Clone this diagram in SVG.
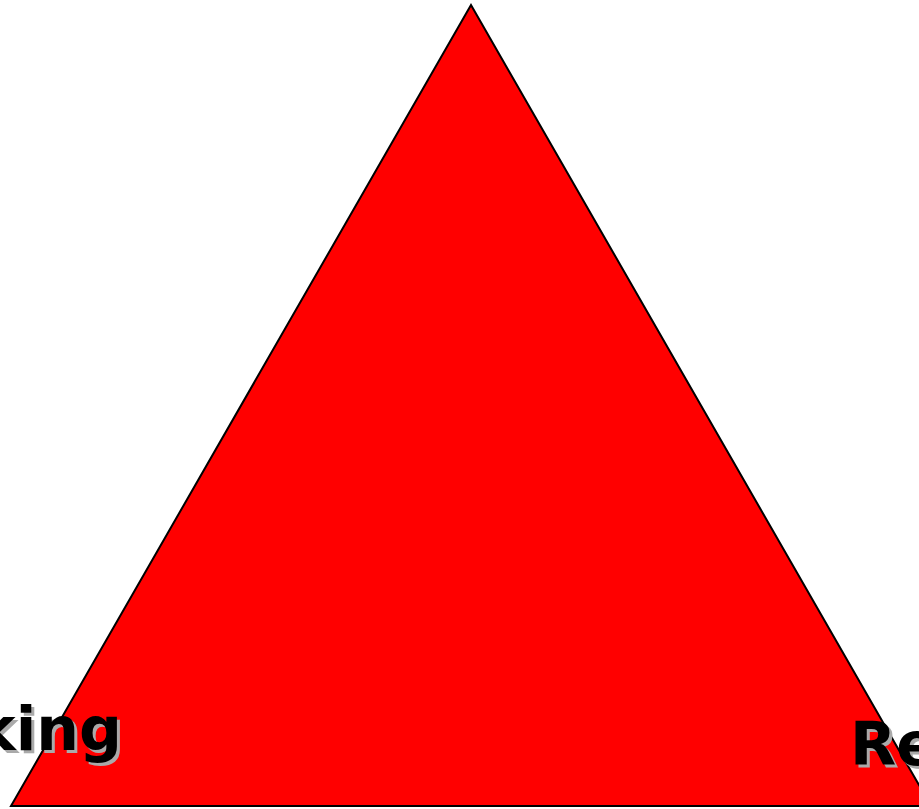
<svg xmlns="http://www.w3.org/2000/svg" width="919" height="809" viewBox="0 0 919 809">
<style>
.lbl{font-family:"DejaVu Sans",sans-serif;font-weight:bold;font-size:60px}
.sh{fill:#aaaaaa}
.fg{fill:#000000}
</style>
<rect width="919" height="809" fill="#ffffff"/>
<g id="triangle">
<polygon points="471,5 11,806 931,806" fill="#ff0000" stroke="#000000" stroke-width="2"/>
</g>
<g id="label-left">
<text class="lbl sh" x="125" y="753" text-anchor="end">king</text>
<text class="lbl fg" x="122" y="750" text-anchor="end">king</text>
</g>
<g id="label-right">
<text class="lbl sh" x="853" y="768">Re</text>
<text class="lbl fg" x="850" y="765">Re</text>
</g>
<g id="connectors"></g>
</svg>
